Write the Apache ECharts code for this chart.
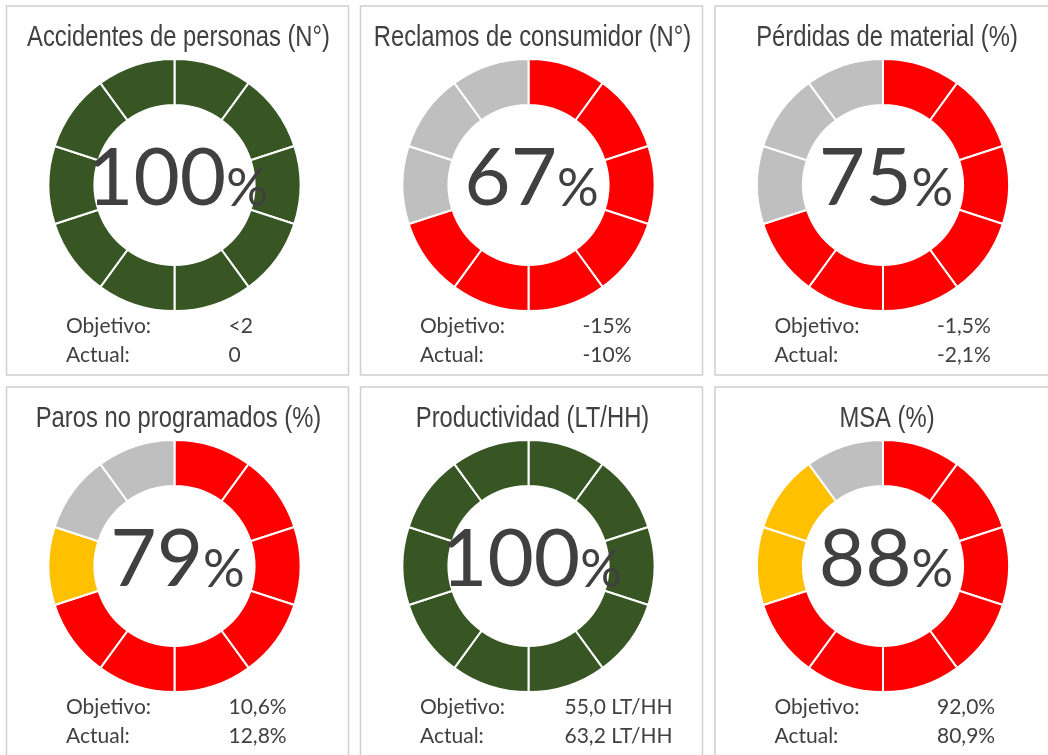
<!DOCTYPE html>
<html>
<head>
<meta charset="utf-8">
<script src="https://cdn.jsdelivr.net/npm/echarts@6/dist/echarts.min.js"></script>
<style>
  html, body { margin: 0; padding: 0; background: #fff; }
  #main { width: 1048px; height: 755px; }
</style>
</head>
<body>
<div id="main"></div>
<script>
// ==================== data ====================
const titles = [
  'Accidentes de personas (N°)',
  'Reclamos de consumidor (N°)',
  'Pérdidas de material (%)',
  'Paros no programados (%)',
  'Productividad (LT/HH)',
  'MSA (%)'
]
const percents = [100, 67, 75, 79, 100, 88]
const objetivo = ['<2', '-15%', '-1,5%', '10,6%', '55,0 LT/HH', '92,0%']
const actual = ['0', '-10%', '-2,1%', '12,8%', '63,2 LT/HH', '80,9%']

// segments of each ring (10 per ring), counted clockwise from the top
const okSegs = [10, 0, 0, 0, 10, 0]
const badSegs = [0, 7, 7, 7, 0, 7]
const warnSegs = [0, 0, 0, 1, 0, 2]
const emptySegs = [0, 3, 3, 2, 0, 1]

// ==================== styles ====================
const colors = { ok: '#375623', bad: '#FF0000', warn: '#FFC000', empty: '#BFBFBF' }
const textColor = '#404040'
const titleFont = '"Liberation Sans", Arial, sans-serif'
const bodyFont = 'Lato, "Open Sans", sans-serif'

const panelX = [6.5, 360.5, 715]
const panelY = [6, 387]
const panelW = 342
const panelH = 369
const valueLeft = [222, 222, 222, 222, 204, 222]

function buildSlices(i) {
  const out = []
  const push = (n, key) => {
    for (let k = 0; k < n; k++) out.push({ value: 1, name: key + k, itemStyle: { color: colors[key] } })
  }
  push(okSegs[i], 'ok')
  push(badSegs[i], 'bad')
  push(warnSegs[i], 'warn')
  push(emptySegs[i], 'empty')
  return out
}

const series = []
const graphic = []

titles.forEach((title, i) => {
  const px = panelX[i % 3]
  const py = panelY[Math.floor(i / 3)]
  const cx = px + 168
  const cy = py + 179

  graphic.push({
    type: 'rect', z: 0,
    shape: { x: px, y: py, width: panelW, height: panelH },
    style: { fill: '#fff', stroke: '#D0D0D0', lineWidth: 1.5 }
  })
  // 标题 - narrow look via horizontal scale
  graphic.push({
    type: 'text', z: 100, x: px + 172, y: py + 32, scaleX: 0.82,
    style: { text: title, fill: textColor, font: '29px ' + titleFont, align: 'center', verticalAlign: 'middle' }
  })
  graphic.push({
    type: 'text', z: 100, x: cx + 3, y: cy - 6,
    style: {
      text: '{n|' + percents[i] + '}{p|%}',
      align: 'center', verticalAlign: 'middle', fill: textColor,
      rich: {
        n: { fontSize: 80, fontFamily: bodyFont, fill: textColor, verticalAlign: 'bottom', lineHeight: 80 },
        p: { fontSize: 52, fontFamily: bodyFont, fill: textColor, verticalAlign: 'bottom', lineHeight: 52, padding: [0, 0, 4, 0] }
      }
    }
  })
  const rows = [['Objetivo:', objetivo[i], 320], ['Actual:', actual[i], 349]]
  rows.forEach(([label, val, dy]) => {
    graphic.push({
      type: 'text', z: 100, x: px + 59.5, y: py + dy,
      style: { text: label, fill: textColor, font: '21px ' + bodyFont, align: 'left', verticalAlign: 'middle' }
    })
    graphic.push({
      type: 'text', z: 100, x: px + valueLeft[i], y: py + dy,
      style: { text: val, fill: textColor, font: '21px ' + bodyFont, align: 'left', verticalAlign: 'middle' }
    })
  })

  series.push({
    type: 'pie',
    center: [cx, cy],
    radius: [80, 126],
    startAngle: 90,
    clockwise: true,
    silent: true,
    label: { show: false },
    labelLine: { show: false },
    itemStyle: { borderColor: '#fff', borderWidth: 2 },
    data: buildSlices(i)
  })
})

const chart = echarts.init(document.getElementById('main'))
chart.setOption({
  backgroundColor: '#fff',
  animation: false,
  graphic,
  series
})
</script>
</body>
</html>
